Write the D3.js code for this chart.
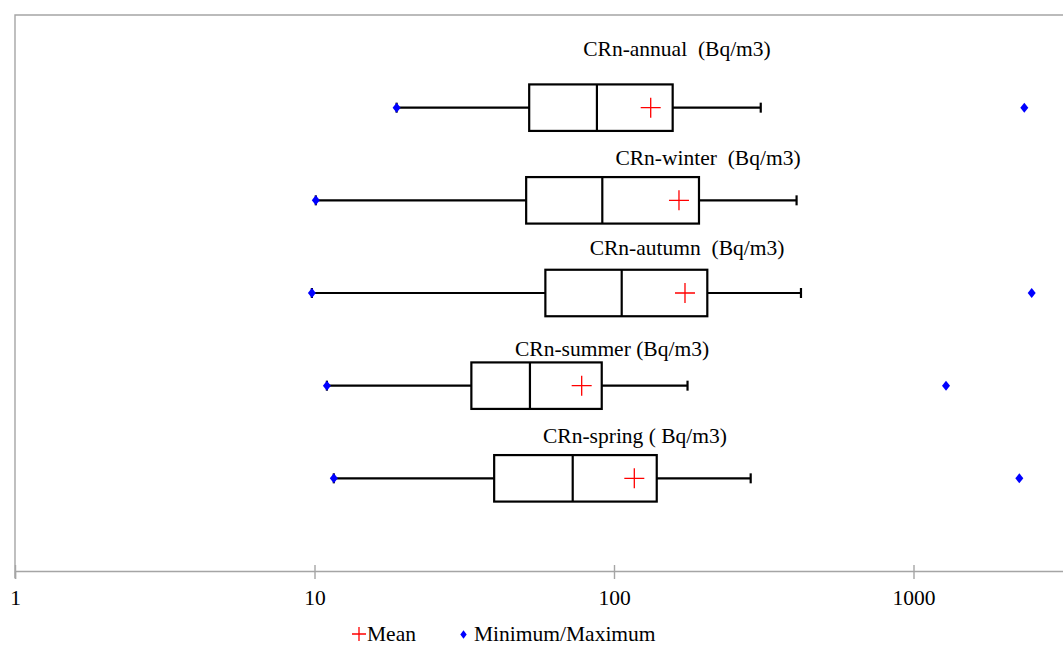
<!DOCTYPE html>
<html>
<head>
<meta charset="utf-8">
<script src="https://cdn.jsdelivr.net/npm/d3@7"></script>
<style>
  html, body { margin: 0; padding: 0; background: #fff; }
  svg text { font-family: "Liberation Serif", "Times New Roman", serif; white-space: pre; }
</style>
</head>
<body>
<svg id="chart" width="1063" height="646"></svg>
<script>
// ---- data ----
const categories = ["CRn-annual", "CRn-winter", "CRn-autumn", "CRn-summer", "CRn-spring"];
const labels = ["CRn-annual  (Bq/m3)", "CRn-winter  (Bq/m3)", "CRn-autumn  (Bq/m3)", "CRn-summer (Bq/m3)", "CRn-spring ( Bq/m3)"];
const minimum     = [18.8, 10.1, 9.8, 11.0, 11.6];
const q1          = [52.1, 50.9, 59.0, 33.4, 39.8];
const median      = [87.7, 91.4, 106.1, 52.4, 72.8];
const mean        = [132.6, 164.8, 172.6, 78.0, 116.9];
const q3          = [157.0, 192.2, 204.9, 91.0, 138.9];
const whiskerHigh = [309, 407, 421, 176, 286];
const maximum     = [2344, null, 2481, 1284, 2256];
const tickValues  = [1, 10, 100, 1000];
const legendLabels = ["Mean", "Minimum/Maximum"];

// ---- layout ----
const W = 1063, H = 646;
const plot = { left: 15, top: 15, right: 1063.25, bottom: 571 };
const labelCenterX = [677, 708, 687, 612, 635];
const labelAbove = [52, 35, 38, 29.5, 35];
const FONT = 21.5;

const svg = d3.select("#chart");

const x = d3.scaleLog().domain([1, Math.pow(10, 3.5)]).range([plot.left, plot.right]);
const y = d3.scalePoint().domain(categories).range([plot.top, plot.bottom]).padding(1);
const boxH = 46.5;

// frame (plot area border)
svg.append("path")
  .attr("d", `M${plot.left},${plot.bottom + 7}V${plot.top}H${W + 5}`)
  .attr("fill", "none").attr("stroke", "#a5a5a5").attr("stroke-width", 1.4);

// axis
const axis = d3.axisBottom(x).tickValues(tickValues).tickFormat(d3.format("d")).tickSize(8).tickPadding(0);
const gAxis = svg.append("g").attr("transform", `translate(0,${plot.bottom})`).call(axis);
gAxis.select(".domain").attr("stroke", "#a5a5a5").attr("stroke-width", 1.4);
gAxis.selectAll(".tick line").attr("y1", -6).attr("y2", 8).attr("stroke", "#a5a5a5").attr("stroke-width", 1.4);
gAxis.selectAll(".tick text")
  .attr("y", 34).attr("dy", 0)
  .attr("fill", "#000").attr("font-size", FONT)
  .style("font-family", '"Liberation Serif", "Times New Roman", serif');

// boxes
const data = categories.map((c, i) => ({
  c, i, label: labels[i], min: minimum[i], q1: q1[i], med: median[i], mean: mean[i],
  q3: q3[i], hi: whiskerHigh[i], max: maximum[i]
}));

const g = svg.append("g");
const rows = g.selectAll("g.row").data(data).join("g").attr("class", "row");

// whiskers
rows.append("line")
  .attr("x1", d => x(d.min)).attr("x2", d => x(d.q1))
  .attr("y1", d => y(d.c)).attr("y2", d => y(d.c))
  .attr("stroke", "#000").attr("stroke-width", 2.2);
rows.append("line")
  .attr("x1", d => x(d.q3)).attr("x2", d => x(d.hi))
  .attr("y1", d => y(d.c)).attr("y2", d => y(d.c))
  .attr("stroke", "#000").attr("stroke-width", 2.2);
// caps
rows.append("line")
  .attr("x1", d => x(d.hi)).attr("x2", d => x(d.hi))
  .attr("y1", d => y(d.c) - 5).attr("y2", d => y(d.c) + 5)
  .attr("stroke", "#000").attr("stroke-width", 2.2);
rows.append("line")
  .attr("x1", d => x(d.min)).attr("x2", d => x(d.min))
  .attr("y1", d => y(d.c) - 5).attr("y2", d => y(d.c) + 5)
  .attr("stroke", "#000").attr("stroke-width", 2.2);

// box
rows.append("rect")
  .attr("x", d => x(d.q1)).attr("width", d => x(d.q3) - x(d.q1))
  .attr("y", d => y(d.c) - boxH / 2).attr("height", boxH)
  .attr("fill", "#fff").attr("stroke", "#000").attr("stroke-width", 2.2);
// median
rows.append("line")
  .attr("x1", d => x(d.med)).attr("x2", d => x(d.med))
  .attr("y1", d => y(d.c) - boxH / 2).attr("y2", d => y(d.c) + boxH / 2)
  .attr("stroke", "#000").attr("stroke-width", 2.2);

// mean cross
function cross(sel, cx, cy, r) {
  sel.append("path")
    .attr("d", d => `M${cx(d) - r},${cy(d)}H${cx(d) + r}M${cx(d)},${cy(d) - r}V${cy(d) + r}`)
    .attr("stroke", "#ff0000").attr("stroke-width", 1.3).attr("fill", "none");
}
cross(rows, d => x(d.mean), d => y(d.c), 10);

// min / max diamonds
function diamondPath(cx, cy, hw, hh) {
  return `M${cx},${cy - hh}L${cx + hw},${cy}L${cx},${cy + hh}L${cx - hw},${cy}Z`;
}
rows.append("path")
  .attr("d", d => diamondPath(x(d.min), y(d.c), 4, 5))
  .attr("fill", "#0000ff");
rows.filter(d => d.max != null).append("path")
  .attr("d", d => diamondPath(x(d.max), y(d.c), 4, 5))
  .attr("fill", "#0000ff");

// labels
rows.append("text")
  .attr("x", d => labelCenterX[d.i])
  .attr("y", d => y(d.c) - labelAbove[d.i])
  .attr("text-anchor", "middle")
  .attr("font-size", FONT).attr("fill", "#000")
  .text(d => d.label);

// legend
const leg = svg.append("g");
const legY = 641;
leg.append("path")
  .attr("d", `M${352},${legY - 7}H${366}M${359},${legY - 14}V${legY}`)
  .attr("stroke", "#ff0000").attr("stroke-width", 1.3);
leg.append("text").attr("x", 367).attr("y", legY).attr("font-size", FONT).text(legendLabels[0]);
leg.append("path").attr("d", diamondPath(463.5, legY - 6.5, 3.2, 4.2)).attr("fill", "#0000ff");
leg.append("text").attr("x", 474).attr("y", legY).attr("font-size", FONT).text(legendLabels[1]);
</script>
</body>
</html>
